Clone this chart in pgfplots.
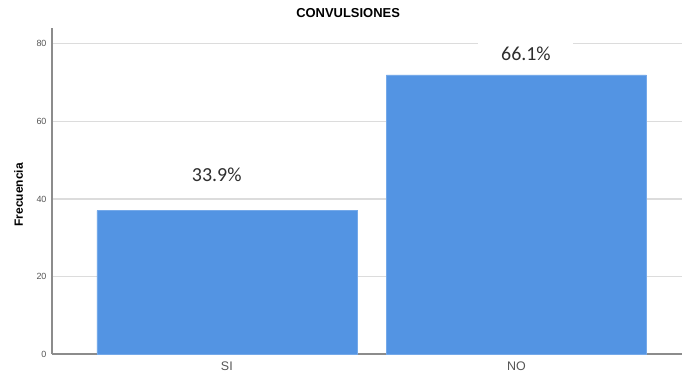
\documentclass[border=0pt]{standalone}
\usepackage{fontspec}
\setmainfont{Liberation Sans}
\newfontfamily\carlito{Carlito}
\usepackage{pgfplots}
\pgfplotsset{compat=1.18}
\definecolor{barblue}{HTML}{5394E3}
\definecolor{gridgray}{HTML}{DCDCDC}
\definecolor{axgray}{HTML}{8C8C8C}
\definecolor{ticktext}{HTML}{555555}
\begin{document}
\begin{tikzpicture}
\path[use as bounding box] (0,0) rectangle (682bp,375bp);
\begin{axis}[
  at={(52bp,21bp)}, anchor=south west,
  scale only axis, width=630bp, height=326bp,
  xmin=-0.604, xmax=1.572, ymin=0, ymax=84.1,
  axis x line*=bottom, axis y line*=left,
  axis line style={axgray, line width=1.2bp},
  xtick={0,1}, xticklabels={SI,NO},
  ytick={0,20,40,60,80},
  ymajorgrids, grid style={gridgray, line width=1.2bp},
  major tick length=0pt,
  tick style={draw=none},
  /pgf/number format/assume math mode=true,
  yticklabel style={font=\fontsize{9}{10}\selectfont, text=ticktext, xshift=-2bp},
  xticklabel style={font=\fontsize{12.5}{14}\selectfont, text=ticktext, yshift=-4bp},
  title={CONVULSIONES},
  title style={font=\bfseries\fontsize{13}{15}\selectfont, at={(axis description cs:0.47,1)}, anchor=base, yshift=5bp},
  ylabel={Frecuencia},
  ylabel style={font=\bfseries\fontsize{12}{14}\selectfont, at={(axis description cs:-0.0532,0.488)}, anchor=center},
  clip=false,
]
\addplot[ybar, bar width=260bp, fill=barblue, draw=barblue!80!white] coordinates {(0,37) (1,72)};
\node[fill=white, font=\carlito\fontsize{20}{22}\selectfont, text=black!82, minimum width=95bp, minimum height=34bp, inner sep=0pt] at (axis cs:-0.035,46.2) {33.9\%};
\node[fill=white, font=\carlito\fontsize{20}{22}\selectfont, text=black!82, minimum width=95bp, minimum height=34bp, inner sep=0pt] at (axis cs:1.033,77.4) {66.1\%};
\end{axis}
\end{tikzpicture}
\end{document}
